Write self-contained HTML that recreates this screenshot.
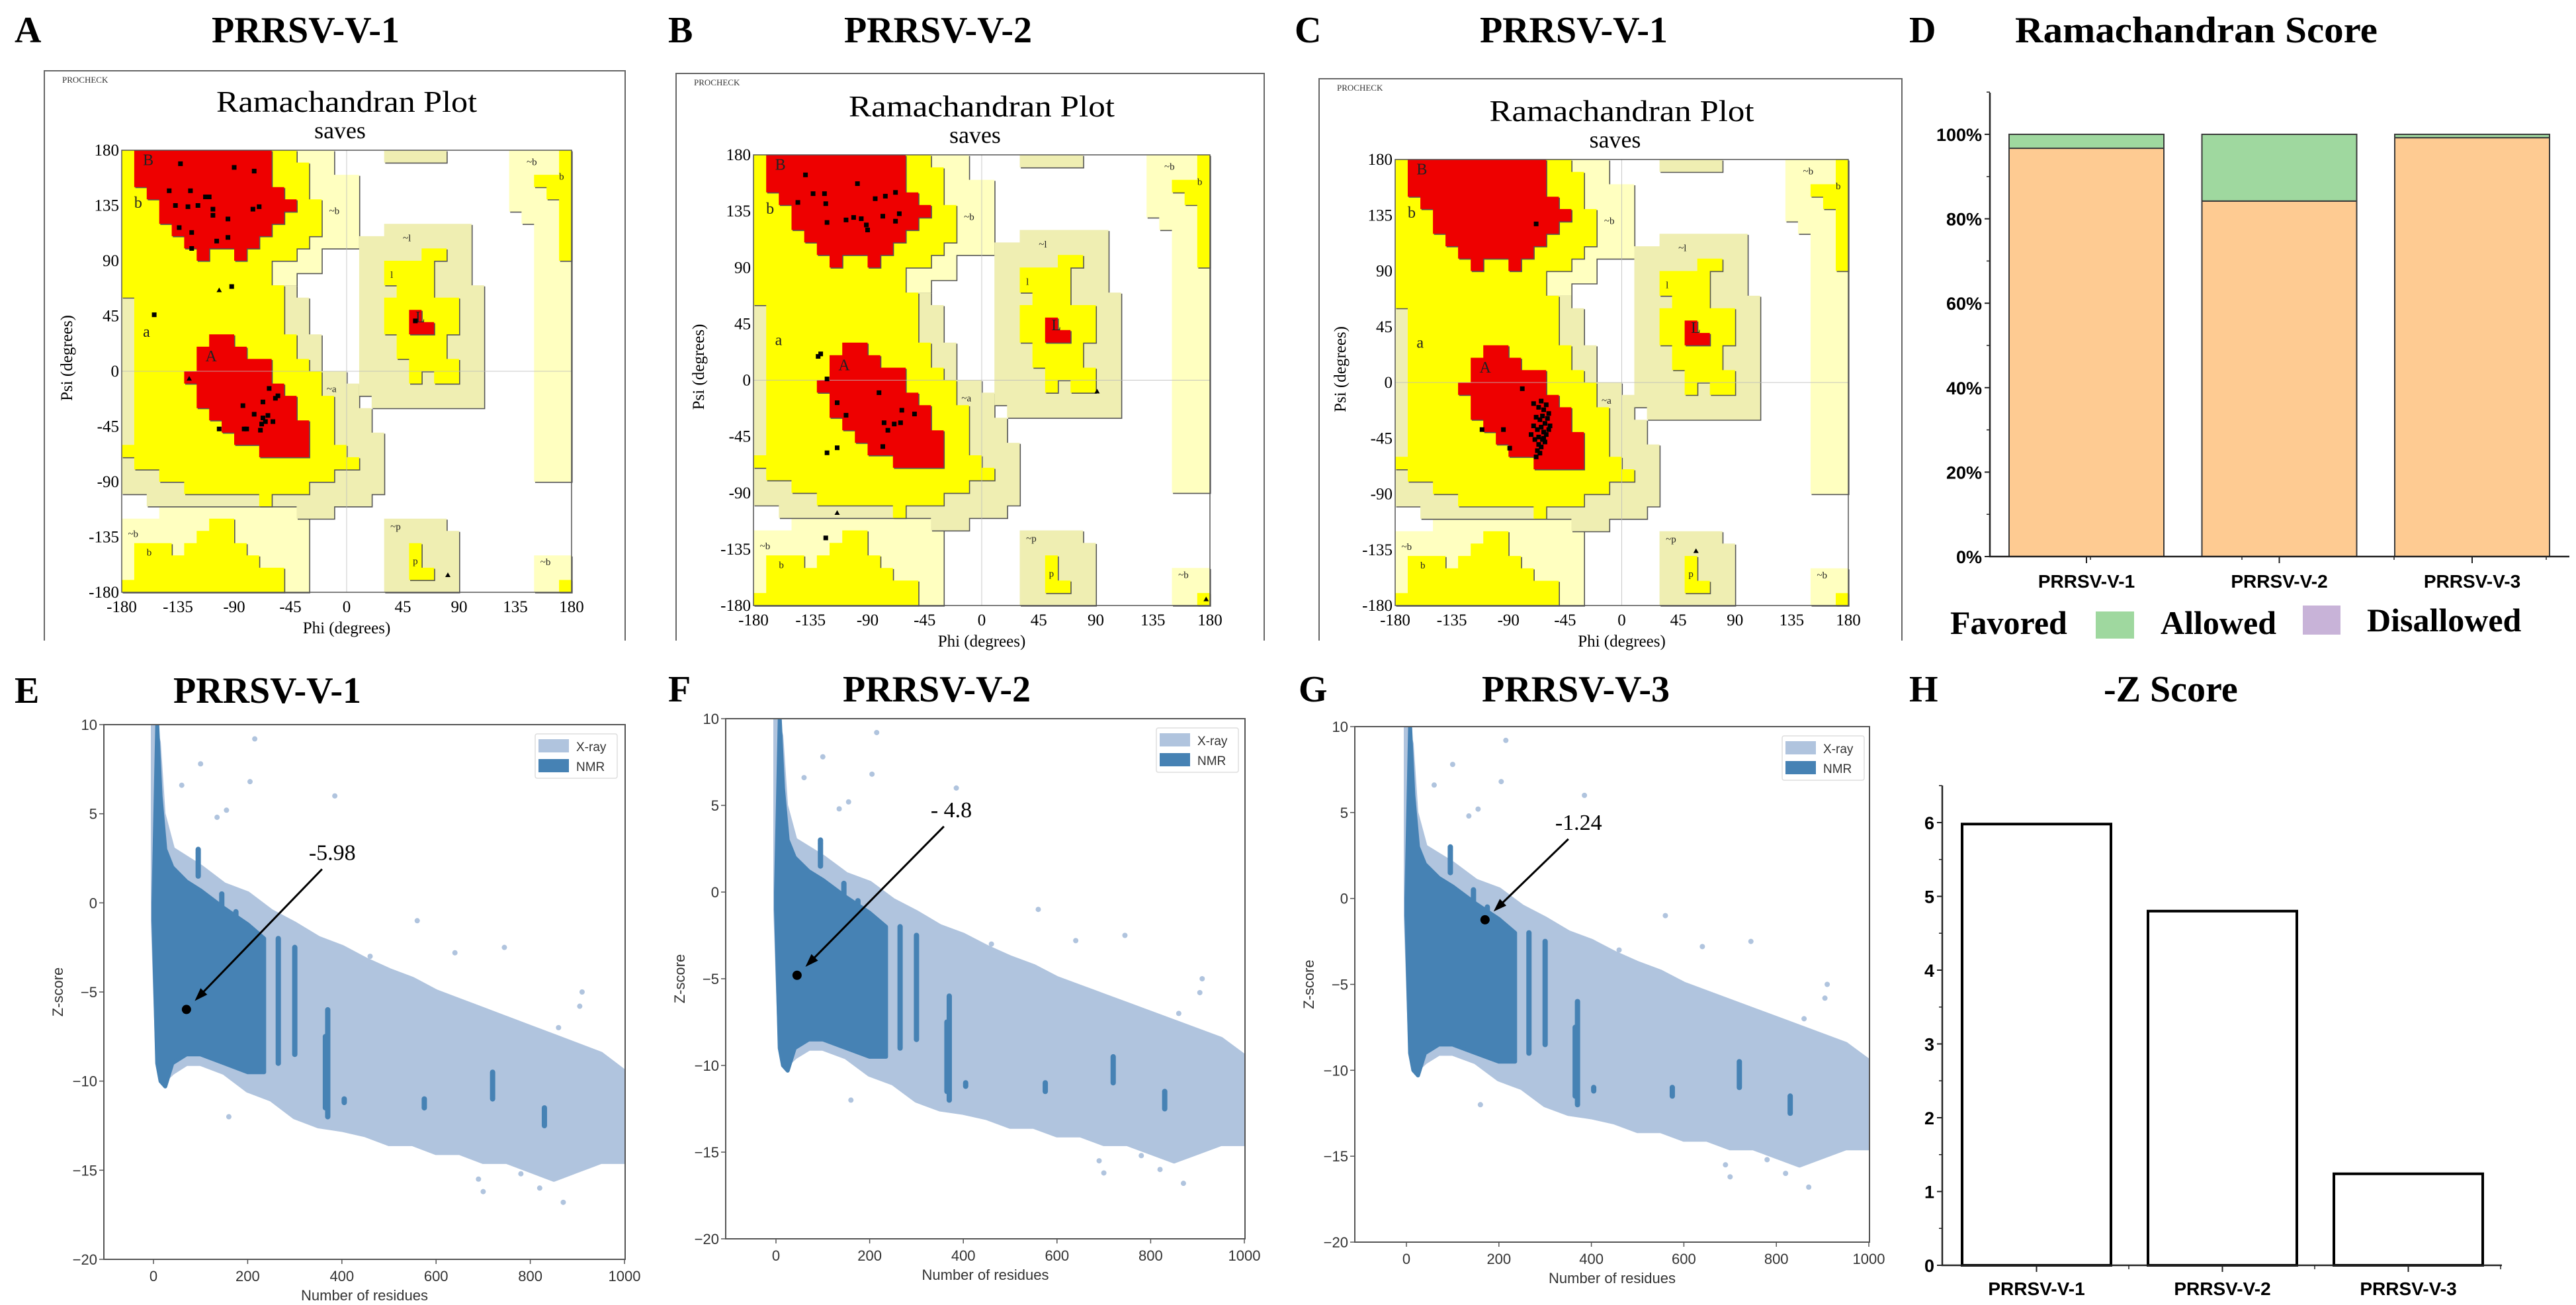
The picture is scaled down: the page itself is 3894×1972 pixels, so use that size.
<!DOCTYPE html>
<html><head><meta charset="utf-8"><title>PRRSV validation figure</title>
<style>
html,body{margin:0;padding:0;background:#fff;}
svg{display:block;}
</style></head>
<body>
<svg id="fig" xmlns="http://www.w3.org/2000/svg" width="3894" height="1972" viewBox="0 0 3894 1972"></svg>
<script>
// ---------------- DATA ----------------
const REG_LIGHT = [
  [[-180,180],[-10,180],[-10,160],[10,160],[10,100],[-20,100],[-20,80],[-40,80],[-40,70],[-180,70]],
  [[-180,-120],[-150,-120],[-150,-110],[-30,-110],[-30,-180],[-180,-180]],
  [[130,180],[180,180],[180,-90],[150,-90],[150,120],[140,120],[140,130],[130,130]],
  [[150,-150],[180,-150],[180,-180],[150,-180]]
];
const REG_BEIGE = [
  [[-180,70],[-40,70],[-40,60],[-30,60],[-30,30],[-20,30],[-20,0],[0,0],[0,-10],[10,-10],[10,-30],[20,-30],[20,-50],[30,-50],[30,-100],[20,-100],[20,-110],[-10,-110],[-10,-120],[-40,-120],[-40,-110],[-160,-110],[-160,-100],[-180,-100]],
  [[30,120],[100,120],[100,70],[110,70],[110,-30],[20,-30],[20,-20],[10,-20],[10,110],[30,110]],
  [[30,180],[80,180],[80,170],[30,170]],
  [[30,-120],[80,-120],[80,-130],[90,-130],[90,-180],[30,-180]]
];
const REG_YELLOW = [
  [[-180,180],[-40,180],[-40,170],[-30,170],[-30,140],[-20,140],[-20,110],[-30,110],[-30,100],[-40,100],[-40,90],[-60,90],[-60,70],[-50,70],[-50,30],[-40,30],[-40,10],[-30,10],[-30,0],[-20,0],[-20,-20],[-10,-20],[-10,-60],[0,-60],[0,-70],[10,-70],[10,-80],[-10,-80],[-10,-90],[-30,-90],[-30,-100],[-60,-100],[-60,-110],[-70,-110],[-70,-100],[-130,-100],[-130,-90],[-150,-90],[-150,-80],[-170,-80],[-170,-70],[-180,-70],[-180,-60],[-170,-60],[-170,60],[-180,60]],
  [[-170,-140],[-140,-140],[-140,-150],[-130,-150],[-130,-140],[-120,-140],[-120,-130],[-110,-130],[-110,-120],[-90,-120],[-90,-140],[-80,-140],[-80,-150],[-70,-150],[-70,-160],[-50,-160],[-50,-180],[-180,-180],[-180,-170],[-170,-170]],
  [[30,90],[60,90],[60,100],[80,100],[80,90],[70,90],[70,60],[90,60],[90,30],[80,30],[80,10],[90,10],[90,-10],[70,-10],[70,0],[60,0],[60,-10],[50,-10],[50,10],[40,10],[40,30],[30,30],[30,60],[40,60],[40,70],[30,70]],
  [[170,180],[180,180],[180,90],[170,90],[170,140],[160,140],[160,150],[150,150],[150,160],[170,160]],
  [[50,-140],[60,-140],[60,-160],[70,-160],[70,-170],[50,-170]],
  [[170,-170],[180,-170],[180,-180],[170,-180]]
];
const REG_RED = [
  [[-170,180],[-60,180],[-60,150],[-50,150],[-50,140],[-40,140],[-40,130],[-50,130],[-50,120],[-60,120],[-60,110],[-70,110],[-70,100],[-80,100],[-80,90],[-90,90],[-90,100],[-110,100],[-110,90],[-120,90],[-120,100],[-130,100],[-130,110],[-140,110],[-140,120],[-150,120],[-150,140],[-160,140],[-160,150],[-170,150]],
  [[-120,20],[-110,20],[-110,30],[-90,30],[-90,20],[-80,20],[-80,10],[-60,10],[-60,-10],[-50,-10],[-50,-20],[-40,-20],[-40,-40],[-30,-40],[-30,-70],[-70,-70],[-70,-60],[-90,-60],[-90,-50],[-100,-50],[-100,-40],[-110,-40],[-110,-30],[-120,-30],[-120,-10],[-130,-10],[-130,0],[-120,0]],
  [[50,50],[60,50],[60,40],[70,40],[70,30],[50,30]]
];
const REG_LABELS = ["B","b","a","A","~b","~a","~l","l","L","~p","p","b","~b","~b","b","~b"];
const REG_LABEL_PHI = [-163,-170,-163,-113,-14,-16,45,35,55,35,53,-160,-175,144,170,155];
const REG_LABEL_PSI = [168,133,28,8,128,-17,106,76,40,-129,-157,-150,-135,168,156,-158];
const RAMA_TICKS = [-180,-135,-90,-45,0,45,90,135,180];

const RES_A_PHI = [-133,-90,-74,-142,-125,-113,-110,-137,-127,-119,-107,-107,-95,-75,-70,-134,-124,-104,-95,-124,-92,-154,-62,-55,-57,-83,-67,-74,-67,-65,-63,-59,-68,-82,-80,-69,-102,55];
const RES_A_PSI = [169,166,163,147,147,142,142,135,134,135,132,127,124,132,134,117,113,106,109,100,69,46,-14,-20,-22,-28,-25,-35,-38,-41,-36,-41,-43,-47,-47,-48,-47,41];
const RES_B_PHI = [-139,-98,-133,-124,-145,-123,-84,-76,-68,-65,-78,-68,-107,-101,-95,-91,-90,-122,-129,-127,-122,-81,-114,-107,-63,-53,-77,-69,-64,-74,-114,-122,-78,-123];
const RES_B_PSI = [164,157,149,149,142,141,145,147,150,133,131,127,128,130,129,124,120,126,19,21,1,-10,-18,-28,-24,-27,-34,-35,-34,-40,-54,-58,-53,-126];
const RES_C_PHI = [-68,-79,-111,-94,-89,-68,-70,-66,-64,-62,-60,-58,-68,-65,-63,-61,-59,-57,-70,-67,-64,-62,-60,-66,-63,-61,-72,-69,-66,-64,-62,-58,-67,-65];
const RES_C_PSI = [128,-5,-38,-38,-53,-60,-17,-20,-15,-22,-18,-25,-28,-30,-27,-33,-29,-35,-35,-38,-36,-40,-42,-44,-46,-48,-42,-46,-50,-52,-45,-38,-55,-57];
const TRI_A = [[-102,66],[-126,-6],[81,-166]];
const TRI_B = [[-114,-106],[91,-9],[177,-175]];
const TRI_C = [[59,-136]];

const SCORE_CATS = ["PRRSV-V-1","PRRSV-V-2","PRRSV-V-3"];
const SCORE_FAVORED = [96.7,84.2,99.2];
const SCORE_ALLOWED = [3.3,15.8,0.8];
const SCORE_DISALLOWED = [0,0,0];
const SCORE_TICKS = [0,20,40,60,80,100];

const Z_CATS = ["PRRSV-V-1","PRRSV-V-2","PRRSV-V-3"];
const Z_VALUES = [5.98,4.8,1.24];
const Z_TICKS = [0,1,2,3,4,5,6];

const XRAY_RES = [0,10,20,40,70,100,150,200,250,300,350,400,450,500,550,600,650,700,750,800,850,900,950,1000];
const XRAY_UP  = [10,9,5,3,2.5,2,1,0.5,-0.5,-1.2,-2,-2.5,-3.2,-3.8,-4.3,-5,-5.5,-6,-6.5,-7,-7.5,-8,-8.5,-9.5];
const XRAY_LO  = [-1,-9,-10,-9.5,-9,-9,-9.5,-10.5,-11,-12,-12.5,-12.7,-13,-13.5,-13.5,-14,-14,-14.5,-14.5,-15,-15.5,-15,-14.5,-14.5];
const NMR_RES = [0,8,15,25,40,70,100,150,200,235];
const NMR_UP  = [0,10,6,3,2,1.2,0.7,-0.3,-1.2,-2];
const NMR_LO  = [-1,-9,-10,-10.3,-9,-8.5,-8.5,-9,-9.5,-9.5];
const NMR_STRIPE_RES = [95,145,175,265,300,365,370,720,830,575,405];
const NMR_STRIPE_TOP = [3,0.5,-0.5,-2,-2.5,-7.5,-6,-9.5,-11.5,-11,-11];
const NMR_STRIPE_BOT = [1.5,-2,-3,-9,-8.5,-11.5,-12,-11,-12.5,-11.5,-11.2];
const XRAY_OUT_RES = [215,100,205,60,385,155,135,95,560,745,910,905,860,690,870,780,820,640,460,160,945,990,700,75,55];
const XRAY_OUT_Z   = [9.2,7.8,6.8,6.6,6,5.2,4.8,2.8,-1,-2.5,-5,-5.8,-7,-15.5,-16.8,-15.2,-16,-2.8,-3,-12,-10.5,-13,-16.2,-4,-3];
const Z_XTICKS = [0,200,400,600,800,1000];
const Z_YTICKS = [10,5,0,-5,-10,-15,-20];
const PANEL_Z = [-5.98,-4.8,-1.24];
const PANEL_RES = [70,45,170];
const PANEL_ZLABEL = ["-5.98","- 4.8","-1.24"];

// ---------------- HELPERS ----------------
const NS = "http://www.w3.org/2000/svg";
const svg = document.getElementById("fig");
function el(tag, attrs, parent){
  const e = document.createElementNS(NS, tag);
  for (const k in attrs) e.setAttribute(k, attrs[k]);
  (parent || svg).appendChild(e);
  return e;
}
function txt(x, y, s, attrs, parent){
  const a = Object.assign({x:x, y:y}, attrs);
  const t = el("text", a, parent);
  t.textContent = s;
  return t;
}
const SERIF = '"Liberation Serif", serif';
const SANS = '"Liberation Sans", sans-serif';

const HEADERS = [
  ["A",22,64,"PRRSV-V-1",462,64],["B",1010,64,"PRRSV-V-2",1418,64],["C",1957,64,"PRRSV-V-1",2379,64],
  ["E",22,1062,"PRRSV-V-1",404,1062],["F",1010,1060,"PRRSV-V-2",1416,1060],["G",1963,1060,"PRRSV-V-3",2382,1060]
];
HEADERS.forEach(h=>{
  const l = txt(h[1], h[2], h[0], {"font-family":SERIF,"font-weight":"bold","font-size":56,fill:"#000"});
  
  
  const t = txt(h[4], h[5], h[3], {"font-family":SERIF,"font-weight":"bold","font-size":56,"text-anchor":"middle",fill:"#000"});
  
  
});
const lD = txt(2886, 64, "D", {"font-family":SERIF,"font-weight":"bold","font-size":56});


const lH = txt(2886, 1060, "H", {"font-family":SERIF,"font-weight":"bold","font-size":56});



// ---------------- RAMACHANDRAN PLOTS ----------------
function rama(cfg, resPhi, resPsi, tris, id){
  const g = el("g", {});
  
  
  const sx = p => cfg.x0 + (p + 180) / 360 * (cfg.x1 - cfg.x0);
  const sy = s => cfg.y0 + (180 - s) / 360 * (cfg.y1 - cfg.y0);
  const fr = el("path", {d:`M${cfg.fx0},${cfg.fy1} V${cfg.fy0} H${cfg.fx1} V${cfg.fy1}`, fill:"none", stroke:"#666", "stroke-width":2}, g);
  
  
  const pc = txt(cfg.fx0 + 27, cfg.fy0 + 18, "PROCHECK", {"font-family":SERIF,"font-size":13,fill:"#333"}, g);
  
  
  const cx = (cfg.x0 + cfg.x1) / 2;
  const tt = txt(cx, cfg.y0 - 58, "Ramachandran Plot", {"font-family":SERIF,"font-size":cfg.tfs,"text-anchor":"middle",textLength:cfg.tw,lengthAdjust:"spacingAndGlyphs"}, g);
  
  
  const sv = txt(cx - 10, cfg.y0 - 18, "saves", {"font-family":SERIF,"font-size":cfg.tfs*0.78,"text-anchor":"middle"}, g);
  
  
  const bg = el("rect", {x:cfg.x0, y:cfg.y0, width:cfg.x1-cfg.x0, height:cfg.y1-cfg.y0, fill:"#fff"}, g);
  
  
  const layers = [[REG_LIGHT,"#ffffc0","generous-region"],[REG_BEIGE,"#efeeb2","generous-region"],[REG_YELLOW,"#ffff00","allowed-region"],[REG_RED,"#ee0000","core-region"]];
  layers.forEach(L=>{
    L[0].forEach(poly=>{
      const pts = poly.map(p=>sx(p[0]).toFixed(1)+","+sy(p[1]).toFixed(1)).join(" ");
      const sh = el("polygon", {points:pts, fill:"#555", transform:"translate(1.6,1.6)"}, g);
      
      
      const pg = el("polygon", {points:pts, fill:L[1]}, g);
      
      
    });
  });
  const z1 = el("line", {x1:sx(0), x2:sx(0), y1:cfg.y0, y2:cfg.y1, stroke:"#bbb", "stroke-width":1, opacity:0.8}, g);
  
  
  const z2 = el("line", {x1:cfg.x0, x2:cfg.x1, y1:sy(0), y2:sy(0), stroke:"#bbb", "stroke-width":1, opacity:0.8}, g);
  
  
  const bx = el("rect", {x:cfg.x0, y:cfg.y0, width:cfg.x1-cfg.x0, height:cfg.y1-cfg.y0, fill:"none", stroke:"#555", "stroke-width":1.5}, g);
  
  
  REG_LABELS.forEach((s,i)=>{
    const big = (s==="A"||s==="B"||s==="L"||s==="a"||s==="b"&&i===1);
    const t = txt(sx(REG_LABEL_PHI[i]), sy(REG_LABEL_PSI[i]), s, {"font-family":SERIF,"font-size":big?24:15,fill:"#222"}, g);
    
    
  });
  resPhi.forEach((p,i)=>{
    const r = el("rect", {x:sx(p)-3.5, y:sy(resPsi[i])-3.5, width:7, height:7, fill:"#000"}, g);
    
    
  });
  tris.forEach(t=>{
    const x = sx(t[0]), y = sy(t[1]);
    const tr = el("polygon", {points:`${x},${y-4} ${x-4},${y+3} ${x+4},${y+3}`, fill:"#000"}, g);
    
    
  });
  RAMA_TICKS.forEach(v=>{
    const a = txt(sx(v), cfg.y1 + 30, String(v), {"font-family":SERIF,"font-size":cfg.fs,"text-anchor":"middle"}, g);
    
    
    const b = txt(cfg.x0 - 4, sy(v) + 8, String(v), {"font-family":SERIF,"font-size":cfg.fs,"text-anchor":"end"}, g);
    
    
  });
  const xt = txt(sx(0), cfg.y1 + 62, "Phi (degrees)", {"font-family":SERIF,"font-size":cfg.fs,"text-anchor":"middle"}, g);
  
  
  const yx = cfg.x0 - 75, yy = sy(0) - 20;
  const yt = txt(yx, yy, "Psi (degrees)", {"font-family":SERIF,"font-size":cfg.fs,"text-anchor":"middle",transform:`rotate(-90 ${yx} ${yy})`}, g);
  
  
}
rama({x0:184,x1:864,y0:227,y1:895,fx0:67,fx1:945,fy0:107,fy1:968,tfs:46,tw:394,fs:25}, RES_A_PHI, RES_A_PSI, TRI_A, "a");
rama({x0:1139,x1:1829,y0:234,y1:915,fx0:1022,fx1:1911,fy0:111,fy1:968,tfs:46,tw:402,fs:25}, RES_B_PHI, RES_B_PSI, TRI_B, "b");
rama({x0:2109,x1:2794,y0:241,y1:915,fx0:1994,fx1:2875,fy0:119,fy1:968,tfs:46,tw:400,fs:25}, RES_C_PHI, RES_C_PSI, TRI_C, "c");

// ---------------- D: RAMACHANDRAN SCORE ----------------
(function(){
  const g = el("g", {});
  
  
  const ax = 3008, yTop = 140, y0 = 841, y100 = 203, xEnd = 3884;
  const yS = v => y0 - v / 100 * (y0 - y100);
  const bw = 234, bx0 = 3037, step = 291.5;
  const t = txt(3046, 64, "Ramachandran Score", {"font-family":SERIF,"font-weight":"bold","font-size":56,textLength:548,lengthAdjust:"spacingAndGlyphs"}, g);
  
  
  SCORE_CATS.forEach((c,i)=>{
    const x = bx0 + i * step;
    const f = SCORE_FAVORED[i], a = SCORE_ALLOWED[i], d = SCORE_DISALLOWED[i];
    const r1 = el("rect", {x:x, y:yS(f), width:bw, height:yS(0)-yS(f), fill:"#fecb92", stroke:"#3a3a3a", "stroke-width":2}, g);
    
    
    const r2 = el("rect", {x:x, y:yS(f+a), width:bw, height:yS(f)-yS(f+a), fill:"#9fd89f", stroke:"#3a3a3a", "stroke-width":2}, g);
    
    
    if (d > 0) {
      const r3 = el("rect", {x:x, y:yS(f+a+d), width:bw, height:yS(f+a)-yS(f+a+d), fill:"#c8b3d8", stroke:"#3a3a3a", "stroke-width":2}, g);
      
      
    }
    const cl = txt(x + bw/2, 888, c, {"font-family":SANS,"font-weight":"bold","font-size":28,"text-anchor":"middle"}, g);
    
    
    const tk = el("line", {x1:x+bw/2, x2:x+bw/2, y1:y0, y2:y0+10, stroke:"#222", "stroke-width":2}, g);
    
    
  });
  const axl = el("path", {d:`M${ax},${yTop} V${y0} H${xEnd}`, fill:"none", stroke:"#222", "stroke-width":2.5}, g);
  
  
  SCORE_TICKS.forEach(v=>{
    const tk = el("line", {x1:ax-8, x2:ax, y1:yS(v), y2:yS(v), stroke:"#222", "stroke-width":2}, g);
    
    
    const mk = el("line", {x1:ax-5, x2:ax, y1:yS(v+10), y2:yS(v+10), stroke:"#222", "stroke-width":1.5}, g);
    
    
    const l = txt(ax - 12, yS(v) + 10, v + "%", {"font-family":SANS,"font-weight":"bold","font-size":27,"text-anchor":"end"}, g);
    
    
  });
  [3101,3330,3560,3790].forEach(x=>{
    const mk = el("line", {x1:x+59, x2:x+59, y1:y0, y2:y0+5, stroke:"#222", "stroke-width":1.5}, g);
    
    
  });
  const lg = el("g", {}, g);
  
  
  const e1 = txt(2948, 958, "Favored", {"font-family":SERIF,"font-weight":"bold","font-size":50}, lg);
  
  
  const s2 = el("rect", {x:3168, y:924, width:58, height:41, fill:"#9fd89f"}, lg);
  
  
  const e2 = txt(3266, 958, "Allowed", {"font-family":SERIF,"font-weight":"bold","font-size":50}, lg);
  
  
  const s3 = el("rect", {x:3481, y:915, width:57, height:44, fill:"#c8b3d8"}, lg);
  
  
  const e3 = txt(3578, 954, "Disallowed", {"font-family":SERIF,"font-weight":"bold","font-size":50}, lg);
  
  
})();

// ---------------- E/F/G: ProSA Z-score plots ----------------
function prosa(cfg, k, id){
  const g = el("g", {});
  
  
  const sx = r => cfg.x0 + r / 1000 * (cfg.x1000 - cfg.x0);
  const sy = z => cfg.fy0 + (10 - z) / 30 * (cfg.fy1 - cfg.fy0);
  const cp = "clip-" + id;
  const defs = el("defs", {}, g);
  const clip = el("clipPath", {id:cp}, defs);
  el("rect", {x:cfg.fx0, y:cfg.fy0, width:cfg.fx1-cfg.fx0, height:cfg.fy1-cfg.fy0}, clip);
  const inner = el("g", {"clip-path":`url(#${cp})`}, g);
  const env = (R, U, Lo) => R.map((r,i)=>sx(r).toFixed(1)+","+sy(U[i]).toFixed(1)).join(" ") + " " + R.slice().reverse().map((r,i)=>sx(r).toFixed(1)+","+sy(Lo[R.length-1-i]).toFixed(1)).join(" ");
  const xr = el("polygon", {points:env(XRAY_RES, XRAY_UP, XRAY_LO), fill:"#b0c4de", stroke:"#b0c4de", "stroke-width":8, "stroke-linejoin":"round"}, inner);
  
  
  XRAY_OUT_RES.forEach((r,i)=>{
    const c = el("circle", {cx:sx(r), cy:sy(XRAY_OUT_Z[i]), r:4, fill:"#b0c4de"}, inner);
    
    
  });
  const nm = el("polygon", {points:env(NMR_RES, NMR_UP, NMR_LO), fill:"#4682b4", stroke:"#4682b4", "stroke-width":6, "stroke-linejoin":"round"}, inner);
  
  
  NMR_STRIPE_RES.forEach((r,i)=>{
    const s = el("line", {x1:sx(r), x2:sx(r), y1:sy(NMR_STRIPE_TOP[i]), y2:sy(NMR_STRIPE_BOT[i]), stroke:"#4682b4", "stroke-width":8, "stroke-linecap":"round"}, inner);
    
    
  });
  const fr = el("rect", {x:cfg.fx0, y:cfg.fy0, width:cfg.fx1-cfg.fx0, height:cfg.fy1-cfg.fy0, fill:"none", stroke:"#555", "stroke-width":2}, g);
  
  
  Z_YTICKS.forEach(v=>{
    const tk = el("line", {x1:cfg.fx0-7, x2:cfg.fx0, y1:sy(v), y2:sy(v), stroke:"#555", "stroke-width":1.5}, g);
    
    
    const l = txt(cfg.fx0 - 10, sy(v) + 8, (v < 0 ? "\u2212" + (-v) : String(v)), {"font-family":SANS,"font-size":22,"text-anchor":"end",fill:"#333"}, g);
    
    
  });
  Z_XTICKS.forEach(v=>{
    const tk = el("line", {x1:sx(v), x2:sx(v), y1:cfg.fy1, y2:cfg.fy1+7, stroke:"#555", "stroke-width":1.5}, g);
    
    
    const l = txt(sx(v), cfg.fy1 + 33, String(v), {"font-family":SANS,"font-size":22,"text-anchor":"middle",fill:"#333"}, g);
    
    
  });
  const xt = txt((cfg.fx0+cfg.fx1)/2, cfg.fy1 + 62, "Number of residues", {"font-family":SANS,"font-size":22,"text-anchor":"middle",fill:"#333"}, g);
  
  
  const yx = cfg.fx0 - 62, yy = sy(-5);
  const yt = txt(yx, yy, "Z-score", {"font-family":SANS,"font-size":22,"text-anchor":"middle",fill:"#333",transform:`rotate(-90 ${yx} ${yy})`}, g);
  
  
  const lg = el("g", {}, g);
  
  
  const lb = el("rect", {x:cfg.lx, y:cfg.ly, width:124, height:67, fill:"#fff", stroke:"#ddd", "stroke-width":1.5, rx:3}, lg);
  
  
  const s1 = el("rect", {x:cfg.lx+5, y:cfg.ly+8, width:46, height:20, fill:"#b0c4de"}, lg);
  
  
  const t1 = txt(cfg.lx+62, cfg.ly+26, "X-ray", {"font-family":SANS,"font-size":19,fill:"#333"}, lg);
  
  
  const s2 = el("rect", {x:cfg.lx+5, y:cfg.ly+38, width:46, height:20, fill:"#4682b4"}, lg);
  
  
  const t2 = txt(cfg.lx+62, cfg.ly+56, "NMR", {"font-family":SANS,"font-size":19,fill:"#333"}, lg);
  
  
  const px = sx(PANEL_RES[k]), py = sy(PANEL_Z[k]);
  const pt = el("circle", {cx:px, cy:py, r:7, fill:"#000"}, g);
  
  
  const ex = px + cfg.ax, ey = py - cfg.ay;
  const dx = px - ex, dy = py - ey, L = Math.hypot(dx, dy), ux = dx / L, uy = dy / L;
  const tipx = px - ux * 18, tipy = py - uy * 18;
  const ar = el("line", {x1:ex, y1:ey, x2:tipx - ux*10, y2:tipy - uy*10, stroke:"#000", "stroke-width":3}, g);
  
  
  const hx = tipx - ux * 20, hy = tipy - uy * 20;
  const ah = el("polygon", {points:`${tipx},${tipy} ${hx - uy*7},${hy + ux*7} ${hx + uy*7},${hy - ux*7}`, fill:"#000"}, g);
  
  
  const at = txt(ex - 20, ey - 14, PANEL_ZLABEL[k], {"font-family":SERIF,"font-size":34,fill:"#000"}, g);
  
  
}
prosa({x0:232,x1000:944,fx0:157,fx1:945,fy0:1095,fy1:1903,lx:809,ly:1109,ax:205,ay:212}, 0, "e");
prosa({x0:1173,x1000:1881,fx0:1097,fx1:1882,fy0:1086,fy1:1872,lx:1748,ly:1100,ax:222,ay:225}, 1, "f");
prosa({x0:2126,x1000:2825,fx0:2048,fx1:2826,fy0:1098,fy1:1877,lx:2694,ly:1112,ax:126,ay:122}, 2, "g");

// ---------------- H: -Z SCORE ----------------
(function(){
  const g = el("g", {});
  
  
  const ax = 2936, y0 = 1912, yTop = 1187, xEnd = 3782, per = 111.5;
  const yS = v => y0 - v * per;
  const t = txt(3180, 1060, "-Z Score", {"font-family":SERIF,"font-weight":"bold","font-size":56}, g);
  
  
  const bx0 = 2966, step = 281, bw = 225;
  Z_CATS.forEach((c,i)=>{
    const x = bx0 + i * step;
    const r = el("rect", {x:x, y:yS(Z_VALUES[i]), width:bw, height:y0 - yS(Z_VALUES[i]), fill:"#fff", stroke:"#000", "stroke-width":4}, g);
    
    
    const l = txt(x + bw/2, 1957, c, {"font-family":SANS,"font-weight":"bold","font-size":28,"text-anchor":"middle"}, g);
    
    
    const tk = el("line", {x1:x+bw/2, x2:x+bw/2, y1:y0, y2:y0+10, stroke:"#222", "stroke-width":2}, g);
    
    
  });
  const axl = el("path", {d:`M${ax},${yTop} V${y0} H${xEnd}`, fill:"none", stroke:"#222", "stroke-width":2.5}, g);
  
  
  Z_TICKS.forEach(v=>{
    const tk = el("line", {x1:ax-8, x2:ax, y1:yS(v), y2:yS(v), stroke:"#222", "stroke-width":2}, g);
    
    
    const mk = el("line", {x1:ax-5, x2:ax, y1:yS(v+0.5), y2:yS(v+0.5), stroke:"#222", "stroke-width":1.5}, g);
    
    
    const l = txt(ax - 12, yS(v) + 10, String(v), {"font-family":SANS,"font-weight":"bold","font-size":27,"text-anchor":"end"}, g);
    
    
  });
  [3218,3499,3780].forEach(x=>{
    const mk = el("line", {x1:x, x2:x, y1:y0, y2:y0+6, stroke:"#222", "stroke-width":1.5}, g);
    
    
  });
})();
</script>
</body></html>
